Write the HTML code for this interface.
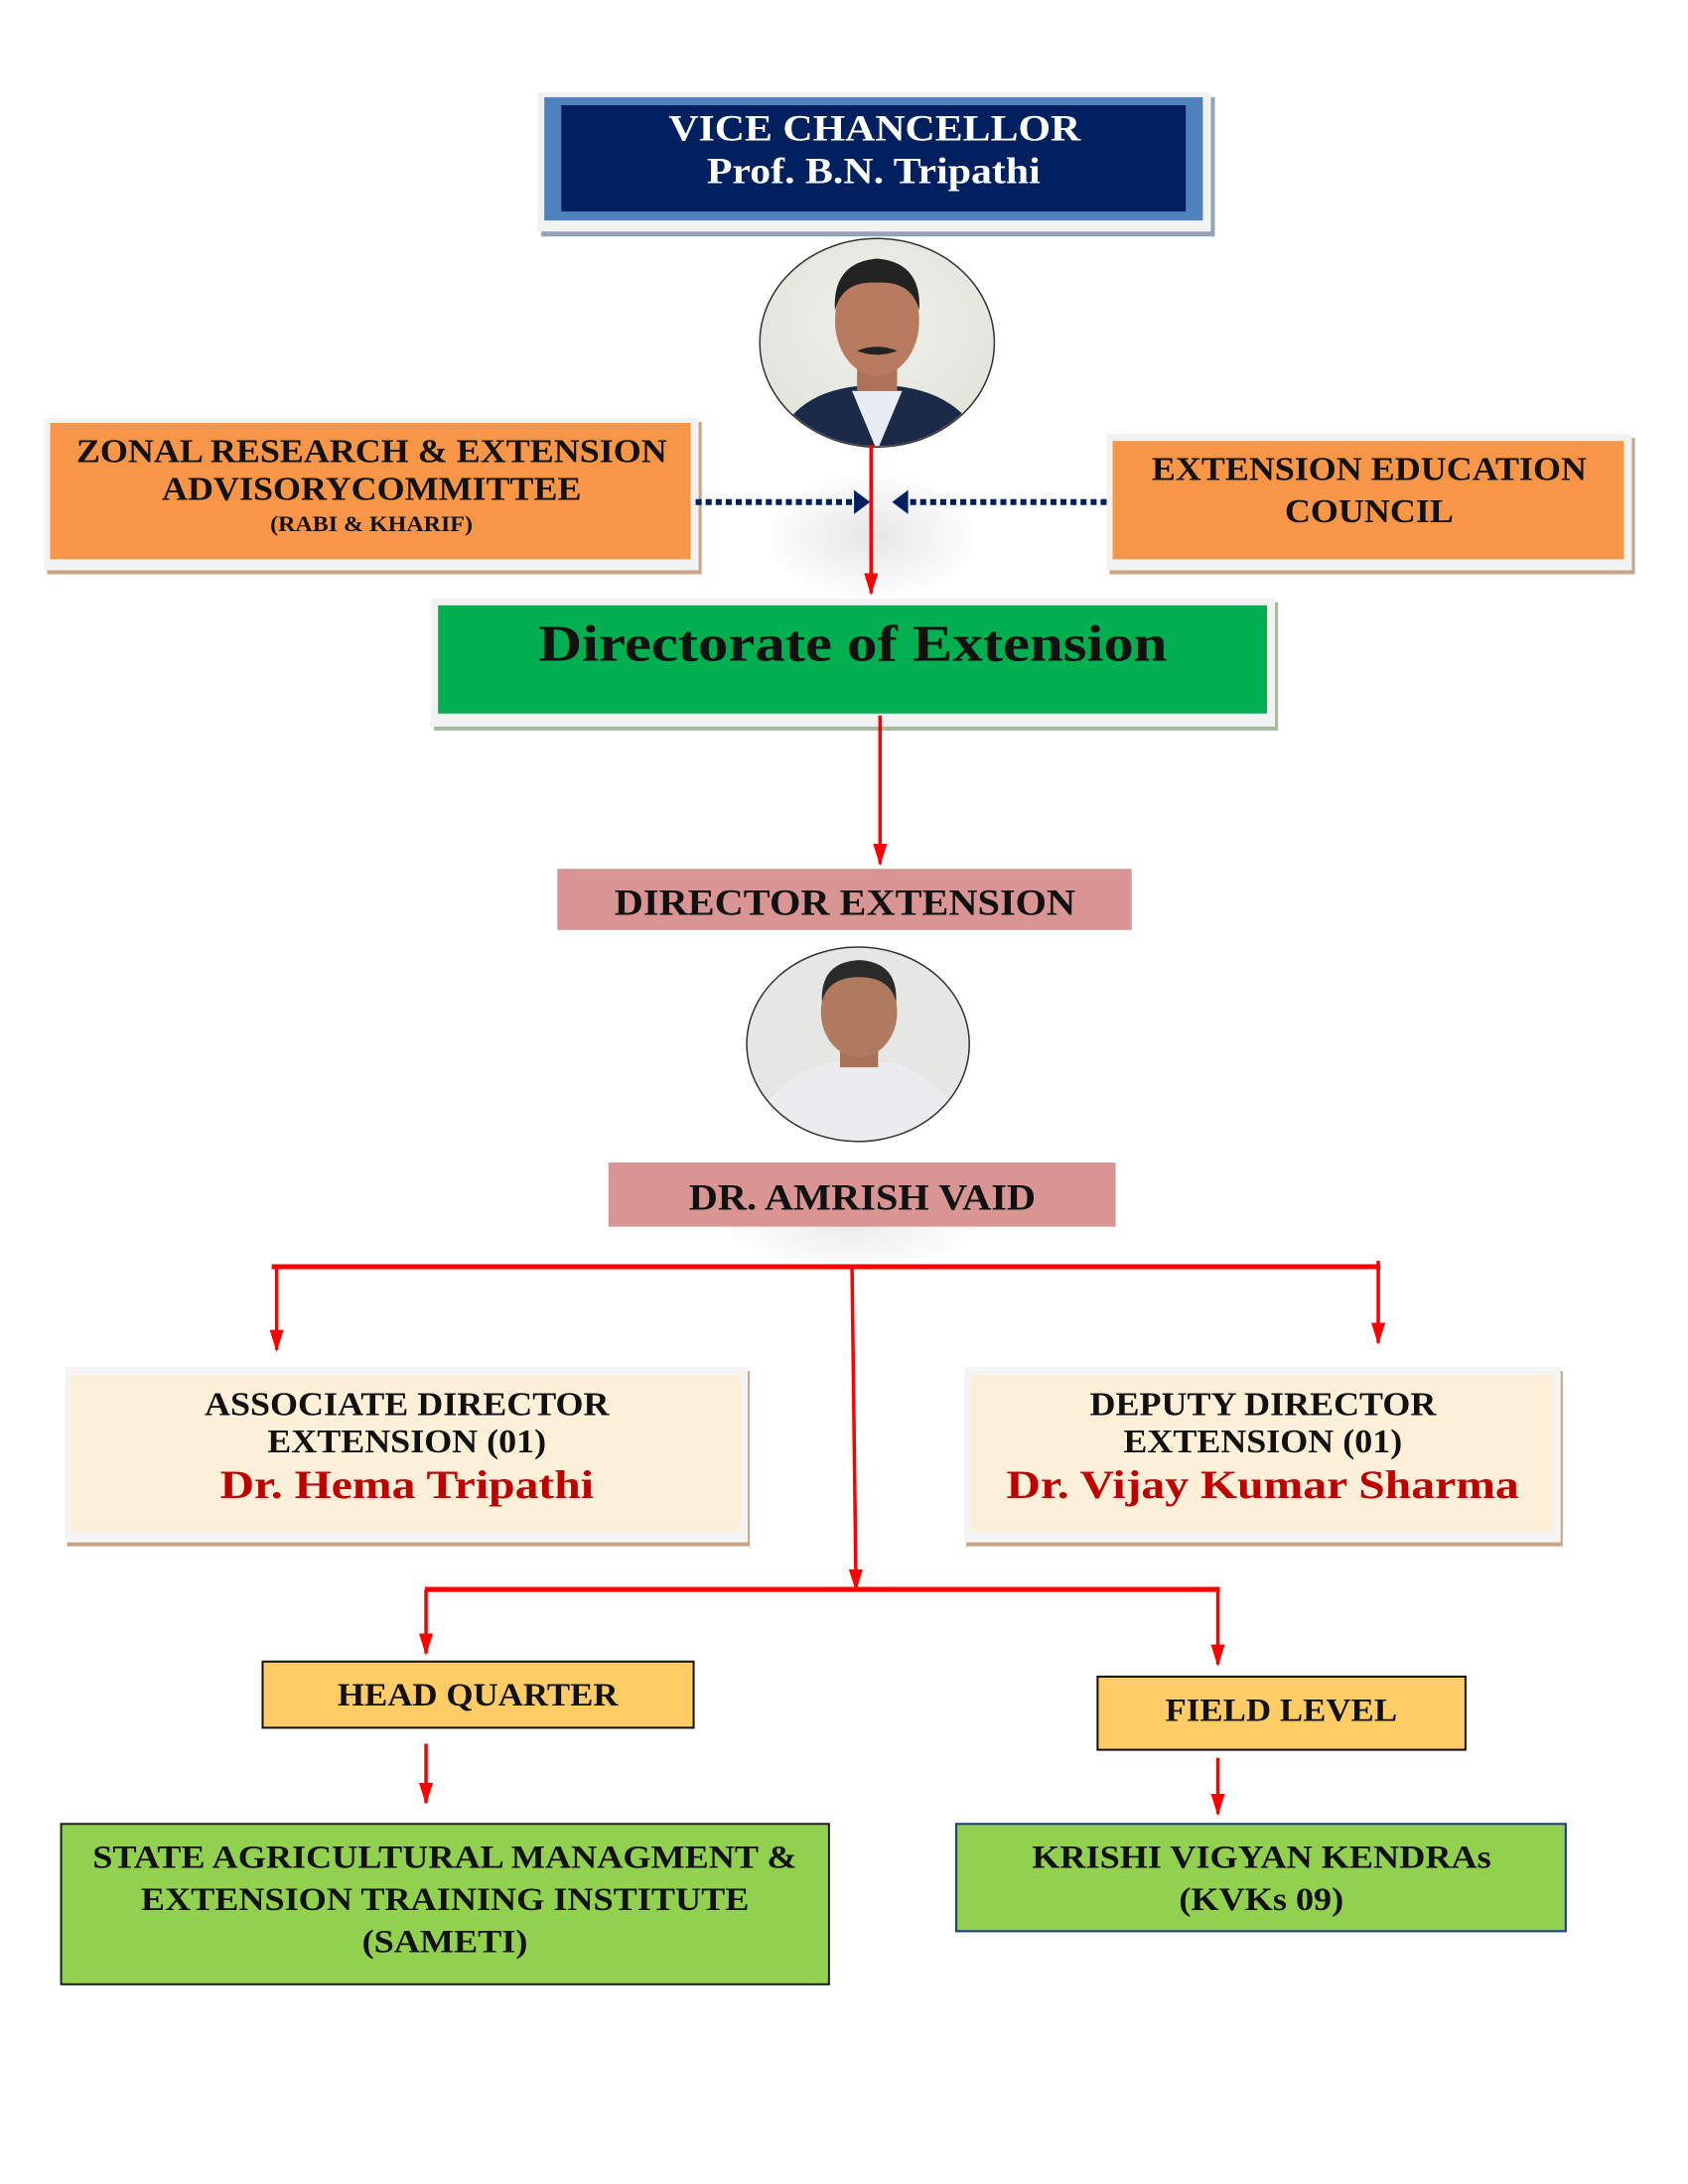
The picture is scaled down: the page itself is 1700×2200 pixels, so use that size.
<!DOCTYPE html>
<html><head><meta charset="utf-8"><style>
body{margin:0;background:#fff;}
#o{position:relative;width:1700px;height:2200px;overflow:hidden;}
#c{position:absolute;left:0;top:0;width:1700px;height:2200px;transform:scale(1.0095);transform-origin:0 0;font-family:"Liberation Serif",serif;font-weight:bold;}
.b{position:absolute;box-sizing:border-box;text-align:center;}
.t{position:absolute;left:0;right:0;text-align:center;white-space:nowrap;}
.t span{display:inline-block;transform:scaleX(1.08);}
.t span.w2{transform:scaleX(1.18);}
.t span.w3{transform:scaleX(1.12);}
svg{position:absolute;left:0;top:0;}
</style></head><body><div id="o"><div id="c">
<!-- VC box -->
<div class="b" style="left:536px;top:92px;width:672px;height:139px;background:#f2f2f2;box-shadow:4px 5px 0 #95a3b9;"></div>
<div class="b" style="left:543px;top:97px;width:657px;height:123px;background:#4f81bd;"></div>
<div class="b" style="left:560px;top:105px;width:623px;height:106px;background:#002060;"></div>
<div class="t" style="left:536px;width:672px;top:107px;font-size:37px;color:#fff;"><span class="w3">VICE CHANCELLOR</span></div>
<div class="t" style="left:536px;width:672px;top:150px;font-size:37px;color:#fff;"><span class="w3">Prof. B.N. Tripathi</span></div>
<!-- shadow glow -->
<div class="b" style="left:760px;top:470px;width:220px;height:130px;border-radius:50%;background:radial-gradient(ellipse,#e6e6e6 0%,#fff 70%);"></div>
<div class="b" style="left:720px;top:1180px;width:260px;height:90px;border-radius:50%;background:radial-gradient(ellipse,#ececec 0%,#fff 70%);"></div>
<!-- zonal -->
<div class="b" style="left:44px;top:417px;width:653px;height:152px;background:#f2f2f2;box-shadow:3px 4px 0 #c9a384;"></div>
<div class="b" style="left:50px;top:422px;width:639px;height:136px;background:#f79646;"></div>
<div class="t" style="left:44px;width:653px;top:433px;font-size:33px;color:#111;"><span>ZONAL RESEARCH &amp; EXTENSION</span></div>
<div class="t" style="left:44px;width:653px;top:471px;font-size:33px;color:#111;"><span>ADVISORYCOMMITTEE</span></div>
<div class="t" style="left:44px;width:653px;top:510px;font-size:22px;color:#111;"><span>(RABI &amp; KHARIF)</span></div>
<!-- EEC -->
<div class="b" style="left:1104px;top:433px;width:524px;height:136px;background:#f2f2f2;box-shadow:3px 4px 0 #c9a384;"></div>
<div class="b" style="left:1110px;top:440px;width:510px;height:118px;background:#f79646;"></div>
<div class="t" style="left:1104px;width:524px;top:451px;font-size:33px;color:#111;"><span>EXTENSION EDUCATION</span></div>
<div class="t" style="left:1104px;width:524px;top:493px;font-size:33px;color:#111;"><span>COUNCIL</span></div>
<!-- Directorate -->
<div class="b" style="left:430px;top:597px;width:842px;height:128px;background:#f2f2f2;box-shadow:3px 4px 0 #a9b89a;"></div>
<div class="b" style="left:437px;top:604px;width:827px;height:108px;background:#00b050;"></div>
<div class="t" style="left:430px;width:842px;top:614px;font-size:51px;color:#111;"><span class="w2">Directorate of Extension</span></div>
<!-- Director Extension -->
<div class="b" style="left:556px;top:867px;width:573px;height:61px;background:#d99594;"></div>
<div class="t" style="left:556px;width:573px;top:880px;font-size:37px;color:#111;"><span>DIRECTOR EXTENSION</span></div>
<div class="b" style="left:607px;top:1160px;width:506px;height:64px;background:#d99594;"></div>
<div class="t" style="left:607px;width:506px;top:1174px;font-size:37px;color:#111;"><span>DR. AMRISH VAID</span></div>
<!-- Associate / Deputy -->
<div class="b" style="left:65px;top:1364px;width:681px;height:175px;background:#f4f4f4;box-shadow:2px 4px 0 #c9a384;"></div>
<div class="b" style="left:71px;top:1372px;width:667px;height:156px;background:#fdf0d8;"></div>
<div class="t" style="left:65px;width:681px;top:1384px;font-size:33px;color:#111;"><span>ASSOCIATE DIRECTOR</span></div>
<div class="t" style="left:65px;width:681px;top:1421px;font-size:33px;color:#111;"><span>EXTENSION (01)</span></div>
<div class="t" style="left:65px;width:681px;top:1458px;font-size:40px;color:#c00000;"><span class="w2">Dr. Hema Tripathi</span></div>
<div class="b" style="left:962px;top:1364px;width:595px;height:175px;background:#f4f4f4;box-shadow:2px 4px 0 #c9a384;"></div>
<div class="b" style="left:968px;top:1372px;width:582px;height:156px;background:#fdf0d8;"></div>
<div class="t" style="left:962px;width:595px;top:1384px;font-size:33px;color:#111;"><span>DEPUTY DIRECTOR</span></div>
<div class="t" style="left:962px;width:595px;top:1421px;font-size:33px;color:#111;"><span>EXTENSION (01)</span></div>
<div class="t" style="left:962px;width:595px;top:1458px;font-size:40px;color:#c00000;"><span class="w2">Dr. Vijay Kumar Sharma</span></div>
<!-- HQ / Field -->
<div class="b" style="left:261px;top:1657px;width:432px;height:68px;background:#ffcc66;border:2px solid #111;"></div>
<div class="t" style="left:261px;width:432px;top:1673px;font-size:32px;color:#111;"><span>HEAD QUARTER</span></div>
<div class="b" style="left:1094px;top:1672px;width:369px;height:75px;background:#ffcc66;border:2px solid #111;"></div>
<div class="t" style="left:1094px;width:369px;top:1688px;font-size:32px;color:#111;"><span>FIELD LEVEL</span></div>
<!-- SAMETI / KVK -->
<div class="b" style="left:60px;top:1819px;width:768px;height:162px;background:#92d050;border:2px solid #222;"></div>
<div class="t" style="left:60px;width:768px;top:1835px;font-size:32px;color:#111;"><span class="w3">STATE AGRICULTURAL MANAGMENT &amp;</span></div>
<div class="t" style="left:60px;width:768px;top:1877px;font-size:32px;color:#111;"><span class="w3">EXTENSION TRAINING INSTITUTE</span></div>
<div class="t" style="left:60px;width:768px;top:1919px;font-size:32px;color:#111;"><span class="w3">(SAMETI)</span></div>
<div class="b" style="left:953px;top:1819px;width:610px;height:109px;background:#92d050;border:2px solid #1f3a8a;"></div>
<div class="t" style="left:953px;width:610px;top:1835px;font-size:32px;color:#111;"><span class="w3">KRISHI VIGYAN KENDRAs</span></div>
<div class="t" style="left:953px;width:610px;top:1877px;font-size:32px;color:#111;"><span class="w3">(KVKs 09)</span></div>
<svg width="1700" height="2200" viewBox="0 0 1700 2200">
<defs>
<marker id="a" markerWidth="22" markerHeight="14" refX="20" refY="7" orient="auto" markerUnits="userSpaceOnUse" viewBox="0 0 22 14"><path d="M0,0 L22,7 L0,14z" fill="#f00"/></marker>
<radialGradient id="bg1" cx="50%" cy="40%" r="60%"><stop offset="0" stop-color="#f0f0ea"/><stop offset="1" stop-color="#e2e4dc"/></radialGradient>
</defs>
<!-- photo 1 -->
<ellipse cx="875" cy="342" rx="117" ry="104" fill="url(#bg1)" stroke="#333" stroke-width="1.5"/>
<clipPath id="p1"><ellipse cx="875" cy="342" rx="116" ry="103"/></clipPath>
<g clip-path="url(#p1)">
<path d="M770,450 Q790,390 860,385 L890,385 Q960,390 985,450z" fill="#1c2a4a"/>
<path d="M850,390 L875,450 L900,390z" fill="#e8edf5"/>
<rect x="855" y="340" width="40" height="50" fill="#b0735a"/>
<ellipse cx="875" cy="320" rx="42" ry="55" fill="#b97b60"/>
<path d="M833,310 Q830,262 875,258 Q920,262 917,310 Q910,280 875,282 Q840,280 833,310z" fill="#222"/>
<path d="M855,350 Q875,342 895,350 Q875,358 855,350z" fill="#222"/>
</g>
<!-- photo 2 -->
<ellipse cx="856" cy="1042" rx="111" ry="97" fill="#e6e6e4" stroke="#333" stroke-width="1.5"/>
<clipPath id="p2"><ellipse cx="856" cy="1042" rx="110" ry="96"/></clipPath>
<g clip-path="url(#p2)">
<path d="M745,1150 Q760,1075 830,1060 L890,1060 Q950,1075 970,1150z" fill="#ecebee"/>
<rect x="838" y="1030" width="38" height="35" fill="#a87258"/>
<ellipse cx="857" cy="1010" rx="38" ry="45" fill="#b07a5e"/>
<path d="M820,1000 Q818,960 857,958 Q896,960 894,1000 Q888,975 857,975 Q826,975 820,1000z" fill="#2a2a2a"/>
</g>
<!-- dotted arrows -->
<line x1="694" y1="501" x2="858" y2="501" stroke="#002060" stroke-width="6" stroke-dasharray="6,4"/>
<path d="M852,489 L868,501 L852,513z" fill="#002060"/>
<line x1="1104" y1="501" x2="900" y2="501" stroke="#002060" stroke-width="6" stroke-dasharray="6,4"/>
<path d="M906,489 L890,501 L906,513z" fill="#002060"/>
<!-- red lines -->
<g stroke="#f00" stroke-width="3.5" fill="none">
<line x1="869" y1="444" x2="869" y2="592" marker-end="url(#a)"/>
<line x1="878" y1="714" x2="878" y2="862" marker-end="url(#a)"/>
<line x1="271" y1="1264" x2="1377" y2="1264" stroke-width="5"/>
<line x1="276" y1="1264" x2="276" y2="1347" marker-end="url(#a)"/>
<line x1="1375" y1="1258" x2="1375" y2="1340" marker-end="url(#a)"/>
<line x1="850" y1="1264" x2="854" y2="1586" marker-end="url(#a)"/>
<line x1="424" y1="1586" x2="1217" y2="1586" stroke-width="5"/>
<line x1="425" y1="1586" x2="425" y2="1650" marker-end="url(#a)"/>
<line x1="1215" y1="1586" x2="1215" y2="1661" marker-end="url(#a)"/>
<line x1="425" y1="1740" x2="425" y2="1799" marker-end="url(#a)"/>
<line x1="1215" y1="1754" x2="1215" y2="1810" marker-end="url(#a)"/>
</g>
</svg>
</div></div></body></html>
